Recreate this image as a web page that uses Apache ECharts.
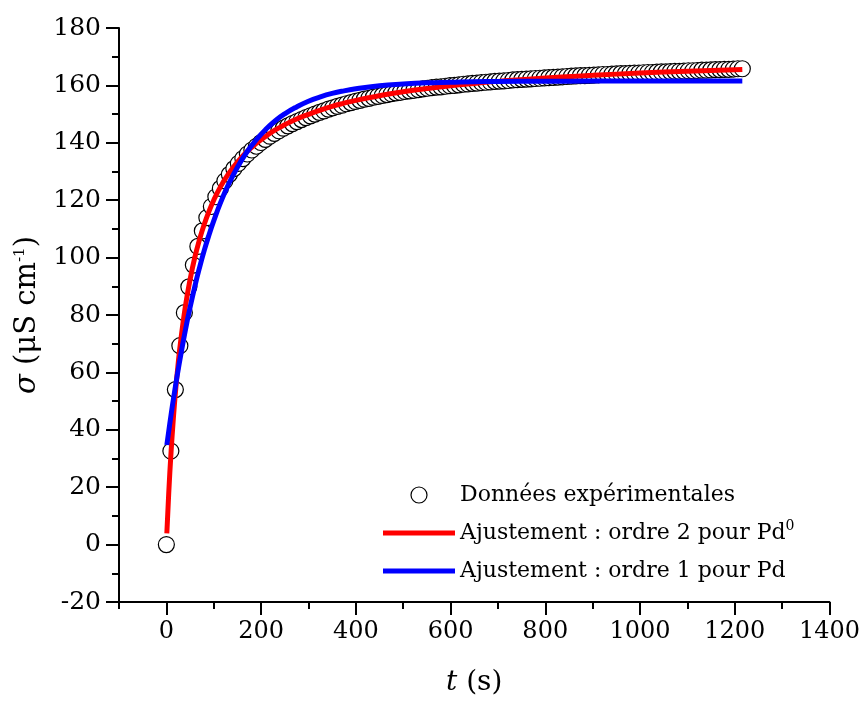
<!DOCTYPE html>
<html>
<head>
<meta charset="utf-8">
<script src="https://cdn.jsdelivr.net/npm/echarts@6/dist/echarts.min.js"></script>
<style>
html,body{margin:0;padding:0;background:#fff;}
#chart{width:863px;height:702px;}
</style>
</head>
<body>
<div id="chart"></div>
<script>
// Experimental data: time (s) and conductivity (µS/cm)
var tData = [0,9.5,19,28.5,38,47.5,57,66.5,76,85.5,
95,104.5,114,123.5,133,142.5,152,161.5,171,180.5,
190,199.5,209,218.5,228,237.5,247,256.5,266,275.5,
285,294.5,304,313.5,323,332.5,342,351.5,361,370.5,
380,389.5,399,408.5,418,427.5,437,446.5,456,465.5,
475,484.5,494,503.5,513,522.5,532,541.5,551,560.5,
570,579.5,589,598.5,608,617.5,627,636.5,646,655.5,
665,674.5,684,693.5,703,712.5,722,731.5,741,750.5,
760,769.5,779,788.5,798,807.5,817,826.5,836,845.5,
855,864.5,874,883.5,893,902.5,912,921.5,931,940.5,
950,959.5,969,978.5,988,997.5,1007,1016.5,1026,1035.5,
1045,1054.5,1064,1073.5,1083,1092.5,1102,1111.5,1121,1130.5,
1140,1149.5,1159,1168.5,1178,1187.5,1197,1206.5,1216];
var sigmaData = [0,32.6,54.0,69.3,80.8,89.8,97.4,103.9,109.3,113.9,
117.8,121.2,124.1,126.7,129.0,131.0,132.8,134.5,136.1,137.5,
138.8,140.1,141.2,142.3,143.3,144.2,145.1,145.9,146.7,147.4,
148.1,148.8,149.4,150.0,150.6,151.1,151.7,152.2,152.7,153.1,
153.6,154.0,154.4,154.8,155.2,155.5,155.9,156.2,156.5,156.8,
157.1,157.4,157.6,157.9,158.1,158.3,158.5,158.8,159.0,159.2,
159.4,159.5,159.7,159.9,160.0,160.2,160.4,160.5,160.7,160.8,
161.0,161.1,161.2,161.4,161.5,161.6,161.7,161.9,162.0,162.1,
162.2,162.3,162.4,162.5,162.6,162.7,162.8,162.9,163.0,163.1,
163.2,163.3,163.4,163.4,163.5,163.6,163.7,163.8,163.8,163.9,
164.0,164.1,164.1,164.2,164.3,164.3,164.4,164.5,164.5,164.6,
164.7,164.7,164.8,164.9,164.9,165.0,165.1,165.1,165.2,165.3,
165.3,165.4,165.5,165.5,165.6,165.6,165.7,165.8,165.8];

// Fitted curves
var tFit = [1,5,10,15,20,25,30,40,50,60,70,80,90,100,115,130,150,170,190,210,230,250,275,300,325,350,375,400,450,500,550,600,650,700,800,900,1000,1100,1216];
var redFit = [3.9,17.9,32.5,44.5,54.6,63.2,70.6,82.8,92.3,100.0,106.3,111.6,116.1,120.0,124.9,128.9,133.3,136.9,139.8,142.3,144.5,146.3,148.3,149.9,151.4,152.7,153.8,154.8,156.4,157.8,158.9,159.9,160.7,161.4,162.6,163.5,164.3,164.9,165.5];
var blueFit = [34.7,39.5,45.3,50.8,56.0,61.0,65.7,74.6,82.6,89.9,96.5,102.5,107.9,112.8,119.4,125.1,131.5,136.8,141.1,144.7,147.7,150.1,152.5,154.5,156.0,157.2,158.1,158.8,159.9,160.5,160.9,161.1,161.3,161.35,161.45,161.5,161.5,161.5,161.5];

var xMajorTicks = [0,200,400,600,800,1000,1200,1400];
var names = ['Données expérimentales','Ajustement : ordre 2 pour Pd0','Ajustement : ordre 1 pour Pd'];

function zip(a,b){var r=[];for(var i=0;i<a.length;i++){r.push([a[i],b[i]]);}return r;}

var FONT = 'DejaVu Serif';
var chart = echarts.init(document.getElementById('chart'), null, {renderer:'canvas'});
var axisLine = {show:true, onZero:false, lineStyle:{color:'#000', width:2}};
var lineIcon = 'path://M0,0 L72,0 L72,5 L0,5 Z';
chart.setOption({
  backgroundColor:'#fff',
  animation:false,
  grid:{left:119, right:28, top:28, bottom:97},
  xAxis:[{
    type:'value', min:-100, max:1400, interval:100,
    axisLine:axisLine,
    axisTick:{show:true, length:7, lineStyle:{color:'#000', width:2}},
    axisLabel:{show:true, margin:18, color:'#000', fontFamily:FONT, fontSize:24,
      formatter:function(v){return (v%200===0 && v>=0)? String(v):'';}},
    splitLine:{show:false},
    name:'{it|t} (s)', nameLocation:'middle', nameGap:67,
    nameTextStyle:{color:'#000', fontFamily:FONT, fontSize:28,
      rich:{it:{fontStyle:'italic', fontFamily:FONT, fontSize:28, color:'#000'}}}
  },{
    type:'value', min:-100, max:1400, interval:100, position:'bottom',
    axisLine:{show:false, onZero:false},
    axisTick:{show:true, length:13, lineStyle:{color:'#000', width:2}, customValues:xMajorTicks},
    axisLabel:{show:false},
    splitLine:{show:false}
  }],
  yAxis:{
    type:'value', min:-20, max:180, interval:20,
    axisLine:axisLine,
    axisTick:{show:true, length:13, lineStyle:{color:'#000', width:2}},
    minorTick:{show:true, splitNumber:2, length:7, lineStyle:{color:'#000', width:2}},
    axisLabel:{margin:18, color:'#000', fontFamily:FONT, fontSize:25},
    splitLine:{show:false},
    name:'{it|σ} (μS cm{sup|-1})', nameLocation:'middle', nameGap:70, nameRotate:90,
    nameTextStyle:{color:'#000', fontFamily:FONT, fontSize:29,
      rich:{it:{fontStyle:'italic', fontFamily:FONT, fontSize:29, color:'#000'},
            sup:{fontSize:15, fontFamily:FONT, color:'#000', padding:[0,0,16,0]}}}
  },
  legend:{
    orient:'vertical', left:383, top:481, padding:0, itemWidth:72, itemHeight:16, itemGap:10,
    textStyle:{color:'#000', fontFamily:FONT, fontSize:22, lineHeight:28,
      rich:{sup:{fontSize:14, fontFamily:FONT, color:'#000', padding:[0,0,14,0]}}},
    formatter:function(n){ return n===names[1] ? 'Ajustement : ordre 2 pour Pd{sup|0}' : n; },
    data:[
      {name:names[0], icon:'circle', itemStyle:{color:'#fff', borderColor:'#000', borderWidth:1.2}},
      {name:names[1], icon:lineIcon, itemStyle:{color:'#ff0000', borderWidth:0}},
      {name:names[2], icon:lineIcon, itemStyle:{color:'#0000ff', borderWidth:0}}
    ]
  },
  series:[
    {name:names[0], type:'scatter', symbol:'circle', symbolSize:16,
     itemStyle:{color:'#fff', borderColor:'#000', borderWidth:1.2, opacity:1},
     data:zip(tData, sigmaData), z:2},
    {name:names[1], type:'line', symbol:'none', smooth:true,
     lineStyle:{color:'#ff0000', width:5}, itemStyle:{color:'#ff0000'},
     data:zip(tFit, redFit), z:3},
    {name:names[2], type:'line', symbol:'none', smooth:true,
     lineStyle:{color:'#0000ff', width:5}, itemStyle:{color:'#0000ff'},
     data:zip(tFit, blueFit), z:4}
  ]
});
</script>
</body>
</html>
